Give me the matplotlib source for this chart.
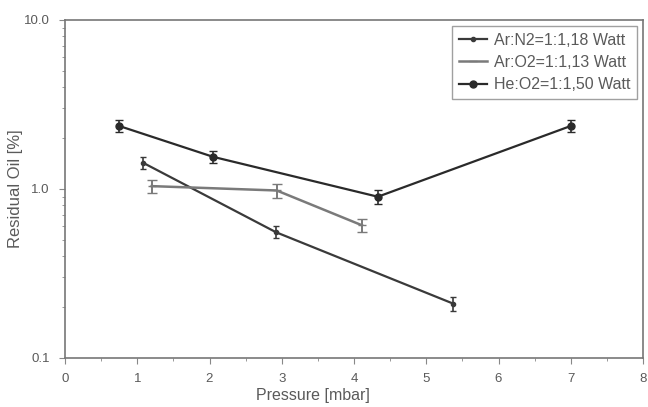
import matplotlib

matplotlib.use("Agg")
import matplotlib.pyplot as plt  # noqa: E402
from matplotlib.lines import Line2D  # noqa: E402
from matplotlib.ticker import FixedLocator, FixedFormatter, MultipleLocator  # noqa: E402

plt.rcParams["font.family"] = ["Liberation Sans", "DejaVu Sans"]

# data
ar_n2_x = [1.08, 2.92, 5.37]
ar_n2_y = [1.43, 0.555, 0.21]
ar_n2_err = [0.12, 0.045, 0.02]

ar_o2_x = [1.2, 2.93, 4.11]
ar_o2_y = [1.04, 0.98, 0.61]
ar_o2_err = [0.09, 0.09, 0.05]

he_o2_x = [0.75, 2.05, 4.33, 7.0]
he_o2_y = [2.36, 1.55, 0.90, 2.36]
he_o2_err = [0.2, 0.13, 0.08, 0.2]

labels = ["Ar:N2=1:1,18 Watt", "Ar:O2=1:1,13 Watt", "He:O2=1:1,50 Watt"]
y_ticks = [0.1, 1.0, 10.0]
y_tick_labels = ["0.1", "1.0", "10.0"]

text_col = "#5a5a5a"
styles = [
    dict(color="#3a3a3a", lw=1.6, marker="o", ms=3),
    dict(color="#7a7a7a", lw=1.8, marker="_", ms=6),
    dict(color="#2a2a2a", lw=1.6, marker="o", ms=5),
]

fig = plt.figure(figsize=(6.48, 4.07), dpi=100)
ax = fig.add_axes([65 / 648, 1 - 358 / 407, 578 / 648, 338 / 407])

ax.errorbar(ar_n2_x, ar_n2_y, yerr=ar_n2_err, capsize=2.5, elinewidth=1.2, **styles[0])
ax.errorbar(ar_o2_x, ar_o2_y, yerr=ar_o2_err, capsize=3.5, elinewidth=1.4, **styles[1])
ax.errorbar(he_o2_x, he_o2_y, yerr=he_o2_err, capsize=3, elinewidth=1.2, **styles[2])

ax.set_yscale("log")
ax.set_ylim(0.1, 10.0)
ax.set_xlim(0, 8)
ax.yaxis.set_major_locator(FixedLocator(y_ticks))
ax.yaxis.set_major_formatter(FixedFormatter(y_tick_labels))
ax.xaxis.set_major_locator(MultipleLocator(1))
ax.xaxis.set_minor_locator(MultipleLocator(0.5))

for side in ax.spines.values():
    side.set_color("#777777")
    side.set_linewidth(1.2)
ax.tick_params(which="both", colors="#888888", labelcolor=text_col, labelsize=9.5)
ax.tick_params(which="major", length=4, pad=7)
ax.tick_params(which="minor", length=2)

ax.set_xlabel("Pressure [mbar]", color=text_col, fontsize=11.5)
ax.xaxis.set_label_coords((313 - 65) / 578, -(388 - 358) / 338)
ax.set_ylabel("Residual Oil [%]", color=text_col, fontsize=12)
ax.yaxis.set_label_coords(-(65 - 23) / 578, 0.5)

handles = [Line2D([], [], **s) for s in styles]
leg = ax.legend(handles, labels, loc="upper right", fontsize=11.5, frameon=True,
                fancybox=False, borderaxespad=0.4, handlelength=1.8,
                handletextpad=0.4, labelspacing=0.45, borderpad=0.4)
leg.get_frame().set_edgecolor("#888888")
leg.get_frame().set_linewidth(1.0)
for t in leg.get_texts():
    t.set_color(text_col)

fig.savefig("out.png", dpi=100)
plt.close(fig)
